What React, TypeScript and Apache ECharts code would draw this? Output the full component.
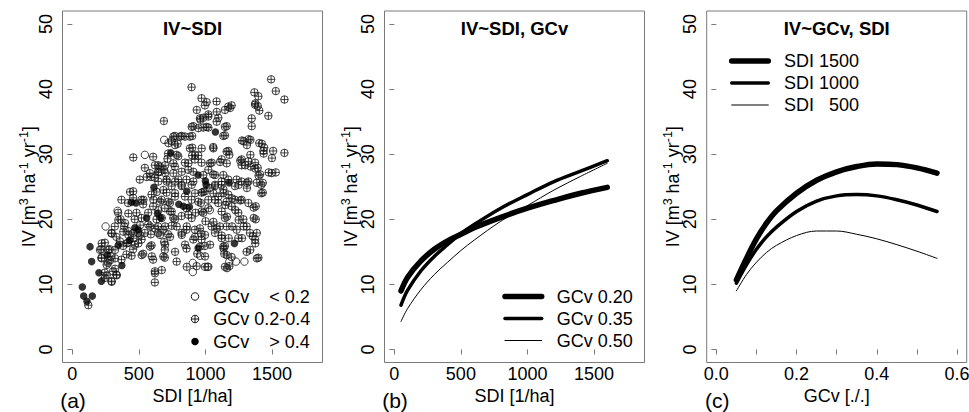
import React, { useEffect, useRef } from "react";
import * as echarts from "echarts";

// ---------------- data ----------------
const sdiTicks = [0, 500, 1000, 1500];
const ivTicks = [0, 10, 20, 30, 40, 50];
const gcvTicks = [0, 0.1, 0.2, 0.3, 0.4, 0.5, 0.6];
const gcvTickLabels = [0, 0.2, 0.4, 0.6];

const panelTitles = ["IV~SDI", "IV~SDI, GCv", "IV~GCv, SDI"];
const panelTags = ["(a)", "(b)", "(c)"];
const xTitles = ["SDI [1/ha]", "SDI [1/ha]", "GCv [./.]"];

// Panel (a): observed plots, [SDI, IV]
const lowGcvLabel = "GCv\u00a0\u00a0\u00a0\u00a0< 0.2";
const midGcvLabel = "GCv 0.2-0.4";
const highGcvLabel = "GCv\u00a0\u00a0\u00a0\u00a0> 0.4";

const midGcvPoints: [number, number][] = [
  [1494, 41.5], [1529, 39.7], [1594, 38.4], [1368, 39.5], [1398, 38.9], [896, 40.3], [971, 38.6], [1009, 38.0],
  [996, 37.5], [1084, 38.1], [1197, 37.5], [1185, 37.1], [1373, 37.6], [1393, 37.4], [1405, 36.7], [1473, 35.9],
  [1348, 35.5], [1348, 34.3], [1022, 36.1], [984, 35.6], [963, 35.3], [1097, 35.6], [909, 34.3], [984, 34.1],
  [1022, 34.1], [1160, 34.3], [1147, 32.9], [688, 35.1], [771, 32.8], [821, 32.8], [901, 32.8], [746, 32.0],
  [791, 31.6], [1424, 31.6], [1338, 32.2], [1287, 32.0], [1312, 31.4], [1509, 30.5], [1436, 30.5], [1594, 30.2],
  [1442, 31.0], [1338, 29.9], [1172, 30.5], [1180, 29.9], [1059, 31.1], [901, 31.0], [901, 29.8], [720, 30.1],
  [715, 29.3], [946, 29.8], [921, 29.2], [971, 28.7], [1047, 28.7], [1122, 29.2], [1272, 29.2], [1323, 28.9],
  [1373, 28.7], [1272, 28.3], [1340, 28.1], [1393, 27.9], [1498, 27.1], [1529, 27.2], [1411, 26.9], [1431, 25.6],
  [1431, 24.1], [1323, 25.8], [1386, 25.6], [607, 29.6], [545, 27.9], [582, 27.1], [645, 27.2], [658, 28.1],
  [690, 27.6], [620, 26.4], [507, 26.1], [457, 24.3], [457, 23.3], [520, 23.0], [369, 23.0], [419, 22.5],
  [344, 21.0], [362, 20.0], [389, 18.9], [319, 18.9], [294, 17.9], [331, 17.3], [244, 16.4], [218, 15.4],
  [218, 14.1], [281, 15.4], [289, 14.3], [269, 13.3], [306, 12.0], [331, 11.5], [244, 11.8], [244, 11.0],
  [294, 10.5], [369, 13.8], [407, 14.6], [445, 14.4], [382, 15.9], [419, 16.4], [457, 15.4], [469, 16.1],
  [520, 16.9], [545, 17.9], [590, 17.7], [595, 16.0], [532, 14.7], [607, 13.8], [620, 12.0], [620, 10.3],
  [690, 16.5], [695, 15.3], [695, 14.1], [720, 17.7], [746, 19.0], [771, 20.0], [821, 20.5], [871, 20.7],
  [858, 21.7], [821, 17.9], [858, 18.4], [858, 15.5], [909, 16.9], [921, 18.4], [966, 17.8], [971, 16.9],
  [939, 14.7], [934, 12.8], [996, 15.9], [1001, 19.7], [1047, 18.9], [1072, 17.9], [1109, 18.9], [1122, 17.5],
  [1147, 15.9], [1142, 14.7], [1197, 14.2], [1180, 12.8], [1247, 17.1], [1235, 18.4], [1310, 18.9], [1335, 17.9],
  [1356, 17.4], [1373, 16.9], [1386, 17.9], [1398, 14.1], [1378, 20.0], [1378, 22.0], [1323, 22.5], [1272, 23.0],
  [1247, 21.0], [1285, 20.0], [1197, 22.0], [1222, 23.0], [1172, 23.8], [1135, 24.6], [1097, 23.5], [1072, 23.0],
  [1072, 25.1], [1034, 24.8], [1059, 26.9], [1022, 27.6], [1122, 25.8], [1235, 26.1], [1222, 25.1], [1172, 26.1],
  [1272, 25.8], [996, 24.3], [971, 24.1], [966, 22.5], [1022, 21.7], [926, 21.0], [984, 21.0], [896, 23.0],
  [846, 23.5], [821, 25.1], [796, 26.1], [858, 26.1], [909, 25.8], [771, 23.5], [733, 22.5], [746, 21.2],
  [695, 21.7], [670, 23.0], [708, 24.1], [746, 25.1], [708, 26.1], [771, 28.1], [846, 28.7], [871, 27.6],
  [796, 29.7], [595, 23.8], [607, 22.0], [570, 21.0], [532, 22.3], [520, 20.2], [482, 21.0], [469, 20.0],
  [494, 17.9], [457, 17.9], [419, 18.2], [645, 18.9], [645, 17.9], [633, 20.0], [570, 19.2], [683, 18.4],
  [935, 36.8], [1022, 35.8], [1085, 36.5], [1147, 36.8], [1172, 37.3], [959, 35.5], [1085, 35.0], [897, 34.2],
  [947, 34.0], [1010, 34.2], [1147, 34.2], [1135, 32.8], [759, 32.7], [809, 32.7], [847, 32.7], [884, 32.7],
  [722, 31.7], [772, 31.4], [884, 30.9], [972, 30.9], [1060, 30.9], [1160, 30.4], [784, 29.9], [922, 29.9],
  [646, 28.3], [697, 28.3], [759, 28.6], [872, 28.6], [1035, 28.6], [1110, 28.8], [1160, 28.6], [646, 27.3],
  [697, 27.1], [759, 27.1], [822, 27.3], [909, 27.3], [984, 26.8], [1072, 26.8], [1135, 26.8], [646, 25.8],
  [709, 25.8], [772, 25.8], [822, 25.3], [897, 25.3], [1072, 25.3], [1122, 25.3], [634, 24.2], [684, 24.5],
  [772, 24.0], [922, 24.0], [984, 24.2], [1060, 24.0], [1135, 24.0], [659, 22.7], [722, 22.7], [947, 22.7],
  [1022, 23.0], [1097, 22.5], [1160, 22.7], [646, 21.4], [734, 21.2], [972, 21.2], [1122, 21.2], [672, 20.2],
  [759, 20.2], [897, 20.2], [1060, 19.6], [1147, 20.2], [697, 18.9], [784, 18.9], [860, 18.9], [959, 18.6],
  [1085, 18.6], [1160, 18.9], [659, 17.6], [734, 17.3], [822, 17.6], [922, 17.3], [997, 17.6], [1122, 17.1],
  [697, 16.1], [847, 16.1], [959, 15.8], [1035, 16.1], [1135, 15.8], [772, 15.0], [684, 14.3], [997, 14.3],
  [1160, 14.5], [860, 12.7], [997, 12.7], [1022, 12.7], [1147, 12.7], [672, 12.2], [784, 13.5],
  [1375, 37.8], [1275, 32.1], [1325, 32.3], [1405, 31.7], [1500, 29.4], [1438, 30.1], [1262, 29.0], [1300, 28.3],
  [1375, 27.8], [1476, 27.2], [1400, 26.7], [1250, 25.3], [1312, 25.6], [1420, 25.3], [1420, 24.0], [1312, 24.8],
  [1200, 23.2], [1262, 22.9], [1150, 22.2], [1363, 21.8], [1225, 21.4], [1363, 20.2], [1162, 20.4], [1250, 19.9],
  [1288, 18.9], [1200, 18.9], [1375, 16.3], [1175, 17.1], [1275, 17.1], [1137, 15.5], [1310, 15.0], [1337, 15.3],
  [1387, 14.0], [1162, 12.5],
  [458, 29.5], [621, 28.3], [559, 26.5], [591, 26.5], [434, 24.2], [609, 23.0], [534, 23.0], [421, 20.9],
  [346, 19.9], [396, 19.4], [509, 19.1], [584, 18.9], [621, 18.6], [383, 18.1], [421, 17.6], [458, 17.1],
  [509, 17.6], [296, 17.8], [358, 16.6], [409, 16.3], [496, 16.3], [584, 15.8], [321, 15.3], [221, 16.3],
  [208, 15.3], [221, 14.0], [271, 15.3], [283, 13.7], [258, 13.0], [321, 14.0], [321, 12.4], [334, 11.4],
  [296, 10.4], [258, 11.4], [521, 14.5], [597, 14.3], [621, 11.7], [120, 6.8],
];

const lowGcvPoints: [number, number][] = [
  [690, 32.2], [545, 29.9], [250, 18.9], [340, 21.3], [658, 27.3], [960, 14.4], [1015, 12.7], [905, 11.9],
  [905, 13.3], [1180, 13.5], [1230, 13.5], [1293, 13.5], [1033, 21.4],
];

const highGcvPoints: [number, number][] = [
  [75, 9.6], [85, 8.2], [110, 7.4], [150, 8.2], [133, 15.8], [145, 13.5], [200, 11.8], [218, 10.5],
  [260, 14.5], [345, 16.0], [372, 12.9], [430, 16.8], [445, 22.6], [478, 22.5], [470, 18.7], [495, 18.4],
  [558, 20.2], [613, 24.9], [640, 20.9], [665, 20.2], [740, 30.2], [800, 22.3], [835, 22.0], [860, 24.3],
  [880, 21.9], [945, 26.8], [945, 15.6], [1000, 25.9], [1005, 25.3], [1075, 33.4], [1178, 25.6], [1218, 16.3],
];

// Panel (b): IV over SDI for fixed GCv
const sdiGrid = [50, 100, 200, 300, 400, 500, 600, 800, 1000, 1200, 1400, 1600];
const ivGcv020 = [9.0, 11.1, 13.6, 15.4, 16.7, 17.7, 18.7, 20.3, 21.7, 22.9, 24.0, 24.9];
const ivGcv035 = [6.8, 9.1, 12.1, 14.3, 16.1, 17.8, 19.2, 21.7, 23.8, 25.8, 27.4, 29.0];
const ivGcv050 = [4.3, 6.3, 9.2, 11.5, 13.4, 15.2, 16.8, 19.7, 22.1, 24.5, 26.6, 28.6];
const gcvLabels = ["GCv 0.20", "GCv 0.35", "GCv 0.50"];

// Panel (c): IV over GCv for fixed SDI
const gcvGrid = [0.05, 0.075, 0.1, 0.125, 0.15, 0.2, 0.25, 0.3, 0.35, 0.4, 0.45, 0.5, 0.55];
const ivSdi1500 = [10.7, 14.0, 17.0, 19.4, 21.3, 24.0, 26.0, 27.3, 28.1, 28.5, 28.4, 27.9, 27.1];
const ivSdi1000 = [10.2, 13.0, 15.4, 17.3, 18.8, 21.2, 22.8, 23.6, 23.8, 23.6, 23.0, 22.2, 21.2];
const ivSdi500 = [9.0, 11.5, 13.4, 14.9, 16.0, 17.5, 18.2, 18.2, 17.7, 17.0, 16.1, 15.1, 14.0];
const sdiLabels = ["SDI 1500", "SDI 1000", "SDI\u00a0\u00a0\u00a0500"];

// ---------------- layout / style ----------------
const FONT = "'Liberation Sans', Arial, Helvetica, sans-serif";
const BOX = "#7a7a7a";
const GRID_LEFTS = [62.5, 384.5, 706.7];
const GRID_TOP = 11;
const GRID_W = 260;
const GRID_H = 351.5;
const LINE_WIDTHS = [5.5, 3.5, 1];
const FS = 18;
const MARK = "#151515";

const crossCircle =
  "path://M10,0A10,10,0,1,1,-10,0A10,10,0,1,1,10,0ZM-10,0L10,0M0,-10L0,10";

function App() {
  const ref = useRef<HTMLDivElement>(null);

  useEffect(() => {
    if (!ref.current) return;
    const chart = echarts.init(ref.current, undefined, { renderer: "svg" });

    const tickLabelStyle = { color: "#000", fontSize: FS, fontFamily: FONT };

    const xAxes = [0, 1, 2].map((i) => {
      const isGcv = i === 2;
      return {
        type: "value",
        gridIndex: i,
        min: isGcv ? -0.024 : -74,
        max: isGcv ? 0.624 : 1880,
        axisLine: { show: false },
        splitLine: { show: false },
        axisTick: {
          show: true,
          length: 5,
          lineStyle: { color: BOX, width: 1 },
          customValues: isGcv ? gcvTicks : sdiTicks,
        },
        axisLabel: {
          ...tickLabelStyle,
          margin: 2,
          customValues: isGcv ? gcvTickLabels : sdiTicks,
          formatter: isGcv ? (v: number) => v.toFixed(1) : (v: number) => String(v),
        },
        name: xTitles[i],
        nameLocation: "middle",
        nameGap: 15,
        nameTextStyle: { color: "#000", fontSize: FS, fontFamily: FONT },
      };
    });

    const yAxes = [0, 1, 2].map((i) => ({
      type: "value",
      gridIndex: i,
      min: -2,
      max: 52,
      axisLine: { show: false },
      splitLine: { show: false },
      axisTick: {
        show: true,
        length: 5,
        lineStyle: { color: BOX, width: 1 },
        customValues: ivTicks,
      },
      axisLabel: {
        ...tickLabelStyle,
        rotate: 90,
        margin: 8,
        customValues: ivTicks,
      },
    }));

    const lineSeries = (name: string, xs: number[], ys: number[], idx: number, w: number) => ({
      type: "line",
      name,
      xAxisIndex: idx,
      yAxisIndex: idx,
      data: xs.map((x, k) => [x, ys[k]]),
      smooth: 0.35,
      showSymbol: false,
      symbol: "none",
      lineStyle: { color: "#000", width: w, cap: "round", join: "round" },
      silent: true,
    });

    const series: any[] = [
      {
        type: "scatter",
        name: midGcvLabel,
        xAxisIndex: 0,
        yAxisIndex: 0,
        data: midGcvPoints,
        symbol: crossCircle,
        symbolSize: 7.5,
        itemStyle: { color: "transparent", borderColor: MARK, borderWidth: 1 },
      },
      {
        type: "scatter",
        name: lowGcvLabel,
        xAxisIndex: 0,
        yAxisIndex: 0,
        data: lowGcvPoints,
        symbol: "circle",
        symbolSize: 7.5,
        itemStyle: { color: "transparent", borderColor: MARK, borderWidth: 1 },
      },
      {
        type: "scatter",
        name: highGcvLabel,
        xAxisIndex: 0,
        yAxisIndex: 0,
        data: highGcvPoints,
        symbol: "circle",
        symbolSize: 7.5,
        itemStyle: { color: "#000" },
      },
      lineSeries(gcvLabels[2], sdiGrid, ivGcv050, 1, LINE_WIDTHS[2]),
      lineSeries(gcvLabels[1], sdiGrid, ivGcv035, 1, LINE_WIDTHS[1]),
      lineSeries(gcvLabels[0], sdiGrid, ivGcv020, 1, LINE_WIDTHS[0]),
      lineSeries(sdiLabels[2], gcvGrid, ivSdi500, 2, LINE_WIDTHS[2]),
      lineSeries(sdiLabels[1], gcvGrid, ivSdi1000, 2, LINE_WIDTHS[1]),
      lineSeries(sdiLabels[0], gcvGrid, ivSdi1500, 2, LINE_WIDTHS[0]),
    ];

    const yTitleRich = {
      n: { fontSize: FS, fontFamily: FONT, lineHeight: 22, fill: "#000", color: "#000" },
      s: { fontSize: 12.5, fontFamily: FONT, lineHeight: 14, verticalAlign: "top", fill: "#000", color: "#000" },
    };
    const yTitleText = "{n|IV [m}{s|3}{n|\u00a0ha}{s|-1}{n|\u00a0yr}{s|-1}{n|]}";

    const graphics: any[] = [];
    const textStyle = (text: string, align = "left", size = FS) => ({
      text,
      fill: "#000",
      fontSize: size,
      fontFamily: FONT,
      align,
      verticalAlign: "middle",
    });

    GRID_LEFTS.forEach((left, i) => {
      graphics.push({
        type: "text",
        x: left - 34,
        y: GRID_TOP + GRID_H / 2,
        rotation: Math.PI / 2,
        silent: true,
        style: {
          text: yTitleText,
          rich: yTitleRich,
          align: "center",
          verticalAlign: "middle",
          fill: "#000",
          fontSize: FS,
          fontFamily: FONT,
        },
      });
      graphics.push({
        type: "text",
        x: left + 10.5,
        y: 400,
        silent: true,
        style: textStyle(panelTags[i], "center", 21),
      });
    });

    // legend (a)
    const la = GRID_LEFTS[0];
    const rowsA = [296.5, 319, 341.5];
    const symX = la + 132.5;
    const txtXA = la + 150.8;
    const r = 3.75;
    graphics.push({
      type: "circle",
      shape: { cx: symX, cy: rowsA[0], r },
      style: { fill: "none", stroke: MARK, lineWidth: 1 },
      silent: true,
    });
    graphics.push({
      type: "group",
      silent: true,
      children: [
        { type: "circle", shape: { cx: symX, cy: rowsA[1], r }, style: { fill: "none", stroke: MARK, lineWidth: 1 } },
        { type: "line", shape: { x1: symX - r, y1: rowsA[1], x2: symX + r, y2: rowsA[1] }, style: { stroke: MARK, lineWidth: 1 } },
        { type: "line", shape: { x1: symX, y1: rowsA[1] - r, x2: symX, y2: rowsA[1] + r }, style: { stroke: MARK, lineWidth: 1 } },
      ],
    });
    graphics.push({
      type: "circle",
      shape: { cx: symX, cy: rowsA[2], r },
      style: { fill: "#000", stroke: "none" },
      silent: true,
    });
    [lowGcvLabel, midGcvLabel, highGcvLabel].forEach((t, k) => {
      graphics.push({ type: "text", x: txtXA, y: rowsA[k], silent: true, style: textStyle(t) });
    });

    // legend (b)
    const lb = GRID_LEFTS[1];
    const rowsB = [296.5, 318.5, 340.5];
    gcvLabels.forEach((t, k) => {
      graphics.push({
        type: "line",
        silent: true,
        shape: { x1: lb + 120.5, y1: rowsB[k], x2: lb + 157.2, y2: rowsB[k] },
        style: { stroke: "#000", lineWidth: LINE_WIDTHS[k], lineCap: "round" },
      });
      graphics.push({ type: "text", x: lb + 172.2, y: rowsB[k], silent: true, style: textStyle(t) });
    });

    // legend (c)
    const lc = GRID_LEFTS[2];
    const rowsC = [61, 83, 105];
    sdiLabels.forEach((t, k) => {
      graphics.push({
        type: "line",
        silent: true,
        shape: { x1: lc + 25, y1: rowsC[k], x2: lc + 61.6, y2: rowsC[k] },
        style: { stroke: "#000", lineWidth: LINE_WIDTHS[k], lineCap: "round" },
      });
      graphics.push({ type: "text", x: lc + 77.3, y: rowsC[k], silent: true, style: textStyle(t) });
    });

    const option: any = {
      animation: false,
      backgroundColor: "#ffffff",
      title: panelTitles.map((t, i) => ({
        text: t,
        left: GRID_LEFTS[i] + GRID_W / 2,
        top: 19,
        textAlign: "center",
        padding: 0,
        textStyle: { color: "#000", fontSize: 18.5, fontWeight: "bold", fontFamily: FONT },
      })),
      grid: GRID_LEFTS.map((left) => ({
        left,
        top: GRID_TOP,
        width: GRID_W,
        height: GRID_H,
        show: true,
        borderColor: BOX,
        borderWidth: 1,
        backgroundColor: "transparent",
        containLabel: false,
        outerBoundsMode: "none",
      })),
      xAxis: xAxes,
      yAxis: yAxes,
      series,
      graphic: graphics,
    };

    chart.setOption(option);
    return () => {
      chart.dispose();
    };
  }, []);

  return (
    <div
      ref={ref}
      style={{ position: "absolute", left: 0, top: 0, width: 969, height: 412, background: "#fff" }}
    />
  );
}

export default App;
